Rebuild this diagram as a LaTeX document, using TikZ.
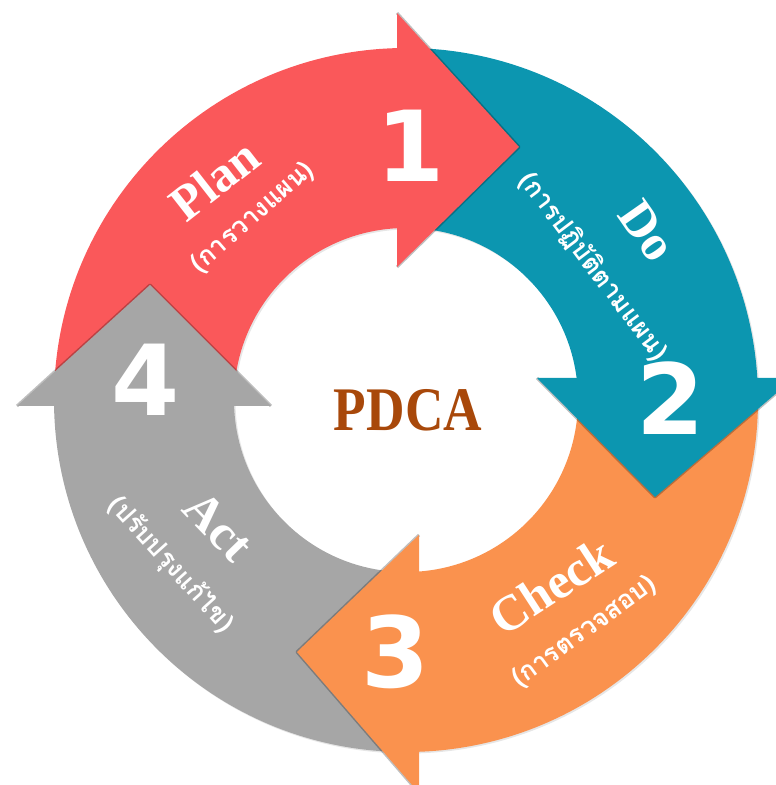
\documentclass[tikz,border=0pt]{standalone}
\usepackage{fontspec}
\setmainfont{Liberation Serif}
\newfontfamily\thaifont[Script=Thai]{Loma}
\newfontfamily\numfont{DejaVu Sans}
\usetikzlibrary{shadows}
\definecolor{planred}{RGB}{250,88,90}
\definecolor{doteal}{RGB}{12,150,176}
\definecolor{checkorange}{RGB}{250,146,78}
\definecolor{actgray}{RGB}{166,166,166}
\definecolor{pdcabrown}{RGB}{168,72,10}
\begin{document}
\begin{tikzpicture}[x=1pt,y=1pt,
  band/.style={fill=#1, drop shadow={shadow xshift=1.5pt,shadow yshift=-1.5pt,opacity=0.2}},
  head/.style={fill=#1},
  headedge/.style={draw=black,opacity=0.25,line width=3pt,line join=round},
  num/.style={font=\numfont\bfseries\fontsize{98}{98}\selectfont, text=white, inner sep=0pt},
  word/.style={font=\bfseries\fontsize{50}{50}\selectfont, text=white, inner sep=0pt},
  thai/.style={font=\thaifont\bfseries\fontsize{26}{26}\selectfont, text=white, inner sep=0pt}]
\useasboundingbox (0,0) rectangle (776,785);
\clip (0,0) rectangle (776,785);
\coordinate (C) at (406,385);
\begin{scope}[shift={(C)}]
  \path[band=planred] (180:352) arc[start angle=180,end angle=90,radius=352pt]
      -- (90:172) arc[start angle=90,end angle=180,radius=172pt] -- cycle;
  \path[band=doteal] (90:352) arc[start angle=90,end angle=0,radius=352pt]
      -- (0:172) arc[start angle=0,end angle=90,radius=172pt] -- cycle;
  \path[band=checkorange] (0:352) arc[start angle=0,end angle=-90,radius=352pt]
      -- (-90:172) arc[start angle=-90,end angle=0,radius=172pt] -- cycle;
  \path[band=actgray] (-90:352) arc[start angle=-90,end angle=-180,radius=352pt]
      -- (-180:172) arc[start angle=-180,end angle=-90,radius=172pt] -- cycle;
\end{scope}
% arrow heads: soft edge on the slanted sides, then the fill
\coordinate (r1) at (397,772); \coordinate (rt) at (519,638); \coordinate (r2) at (397,518);
\coordinate (t1) at (537,407); \coordinate (tt) at (655,288); \coordinate (t2) at (794,407);
\coordinate (o1) at (419,250); \coordinate (ot) at (297,133); \coordinate (o2) at (419,-8);
\coordinate (g1) at (17,379);  \coordinate (gt) at (150,500); \coordinate (g2) at (271,379);
\draw[headedge] (r1) -- (rt) -- (r2);
\path[head=planred] (r1) -- (rt) -- (r2) -- cycle;
\draw[headedge] (t1) -- (tt) -- (t2);
\path[head=doteal] (t1) -- (tt) -- (t2) -- cycle;
\draw[headedge] (o1) -- (ot) -- (o2);
\path[head=checkorange] (o1) -- (ot) -- (o2) -- cycle;
\draw[headedge] (g1) -- (gt) -- (g2);
\path[head=actgray] (g1) -- (gt) -- (g2) -- cycle;
% numbers
\node[num] (n1) at (411,639) {1};
\node[num] (n2) at (671,387) {2};
\node[num] (n3) at (396,133) {3};
\node[num] (n4) at (146,405) {4};
% labels
\begin{scope}[shift={(C)}]
  \node[word,rotate=38] (plan) at (131:292) {Plan};
  \node[thai,rotate=41] (planth) at (130:238) {(การวางแผน)};
  \node[word,rotate=-55] (do) at (35:295) {Do};
  \node[thai,rotate=-53] (doth) at (35.5:230) {(การปฏิบัติตามแผน)};
  \node[word,rotate=33] (check) at (-52:236) {Check};
  \node[thai,rotate=36] (checkth) at (-52.5:293) {(การตรวจสอบ)};
  \node[word,rotate=-46] (act) at (214:226) {Act};
  \node[thai,rotate=-48] (actth) at (215:287) {(ปรับปรุงแก้ไข)};
\end{scope}
\node[font=\bfseries\fontsize{62}{62}\selectfont, text=pdcabrown, xscale=0.86, inner sep=0pt] (pdca) at (408,375) {PDCA};
\end{tikzpicture}
\end{document}
